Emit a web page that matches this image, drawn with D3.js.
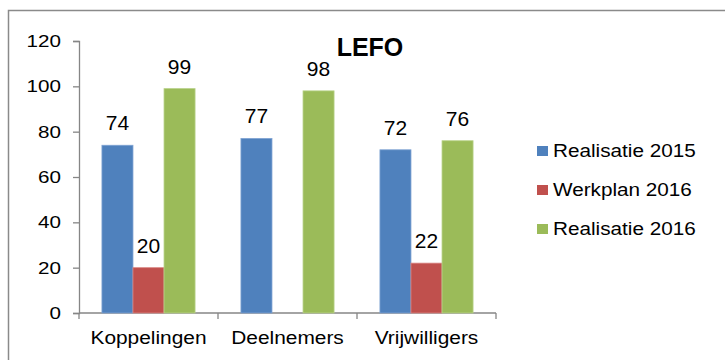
<!DOCTYPE html>
<html>
<head>
<meta charset="utf-8">
<script src="https://cdn.jsdelivr.net/npm/d3@7"></script>
<style>
  html, body { margin: 0; padding: 0; background: #fff; }
  svg { display: block; }
  text { font-family: "Liberation Sans", Arial, sans-serif; fill: #000; }
</style>
</head>
<body>
<svg id="chart" width="725" height="360"></svg>
<script>
// Chart data
const categories = ["Koppelingen", "Deelnemers", "Vrijwilligers"];
const seriesNames = ["Realisatie 2015", "Werkplan 2016", "Realisatie 2016"];
const realisatie2015 = [74, 77, 72];
const werkplan2016 = [20, null, 22];
const realisatie2016 = [99, 98, 76];
const yTicks = [0, 20, 40, 60, 80, 100, 120];
const title = "LEFO";

const seriesValues = [realisatie2015, werkplan2016, realisatie2016];
const colors = ["#4F81BD", "#C0504D", "#9BBB59"];
const edgeColors = ["#7FA3D3", "#D98583", "#B9D28A"];

const svg = d3.select("#chart");
const axisColor = "#868686";

// Outer chart frame (only top and left edges fall inside the view)
svg.append("rect")
  .attr("x", 8.5).attr("y", 10.5)
  .attr("width", 760).attr("height", 400)
  .attr("fill", "none")
  .attr("stroke", "#8a8a8a")
  .attr("stroke-width", 1.5);

const plot = { left: 79, right: 496, top: 41, bottom: 313 };

const x0 = d3.scaleBand()
  .domain(categories)
  .range([plot.left, plot.right])
  .paddingInner(0.33)
  .paddingOuter(0.165);

const x1 = d3.scaleBand()
  .domain(d3.range(seriesNames.length))
  .range([0, x0.bandwidth()]);

const y = d3.scaleLinear()
  .domain([0, 120])
  .range([plot.bottom, plot.top]);

// Horizontally widened text, as the axis and legend labels are drawn
function wideText(sel, sx) {
  sel.attr("transform", function() {
    const t = d3.select(this);
    return `translate(${+t.attr("data-x")},${+t.attr("data-y")}) scale(${sx},1)`;
  });
}

// Y axis
const yAxis = d3.axisLeft(y).tickValues(yTicks).tickSize(6).tickFormat("");
const gy = svg.append("g").attr("transform", `translate(${plot.left},0)`).call(yAxis);
gy.select(".domain").attr("stroke", axisColor).attr("stroke-width", 1.3);
gy.selectAll(".tick line").attr("stroke", axisColor).attr("stroke-width", 1.3);
svg.append("g").selectAll("text")
  .data(yTicks)
  .join("text")
  .attr("data-x", plot.left - 18)
  .attr("data-y", d => y(d) + 6)
  .attr("text-anchor", "end")
  .attr("font-size", 16.5)
  .text(d => d)
  .call(wideText, 1.25);

// X axis with tick marks on category boundaries
const boundaryScale = d3.scaleLinear().domain([0, categories.length]).range([plot.left, plot.right]);
const gx = svg.append("g").attr("transform", `translate(0,${plot.bottom})`);
gx.append("line")
  .attr("x1", plot.left).attr("x2", plot.right)
  .attr("stroke", axisColor).attr("stroke-width", 1.3);
gx.selectAll(".bt")
  .data(d3.range(categories.length + 1))
  .join("line")
  .attr("x1", d => boundaryScale(d)).attr("x2", d => boundaryScale(d))
  .attr("y1", 0).attr("y2", 6)
  .attr("stroke", axisColor).attr("stroke-width", 1.3);
svg.append("g").selectAll("text")
  .data(categories)
  .join("text")
  .attr("data-x", d => x0(d) + x0.bandwidth() / 2)
  .attr("data-y", 344)
  .attr("text-anchor", "middle")
  .attr("font-size", 18)
  .text(d => d)
  .call(wideText, 1.16);

// Bars
const groups = svg.append("g").selectAll("g")
  .data(categories)
  .join("g")
  .attr("transform", d => `translate(${x0(d)},0)`);

groups.each(function(cat, ci) {
  const g = d3.select(this);
  const items = seriesValues.map((vals, si) => ({ si, v: vals[ci] })).filter(d => d.v != null);
  g.selectAll("rect")
    .data(items)
    .join("rect")
    .attr("x", d => x1(d.si))
    .attr("width", x1.bandwidth())
    .attr("y", d => y(d.v))
    .attr("height", d => y(0) - y(d.v))
    .attr("fill", d => colors[d.si])
    .attr("stroke", d => edgeColors[d.si])
    .attr("stroke-width", 0.8);
  g.selectAll("text")
    .data(items)
    .join("text")
    .attr("x", d => x1(d.si) + x1.bandwidth() / 2)
    .attr("y", d => y(d.v) - 15)
    .attr("text-anchor", "middle")
    .attr("font-size", 21)
    .text(d => d.v);
});

// Title
svg.append("text")
  .attr("x", 370).attr("y", 56)
  .attr("text-anchor", "middle")
  .attr("font-size", 25)
  .attr("font-weight", "bold")
  .text(title);

// Legend
const legend = svg.append("g");
const legendY = d3.scalePoint().domain(seriesNames).range([151, 229]);
legend.selectAll("rect")
  .data(seriesNames)
  .join("rect")
  .attr("x", 537)
  .attr("y", d => legendY(d) - 5)
  .attr("width", 11).attr("height", 10)
  .attr("fill", (d, i) => colors[i]);
legend.selectAll("text")
  .data(seriesNames)
  .join("text")
  .attr("data-x", 553)
  .attr("data-y", d => legendY(d) + 6)
  .attr("font-size", 18.5)
  .text(d => d)
  .call(wideText, 1.12);
</script>
</body>
</html>
